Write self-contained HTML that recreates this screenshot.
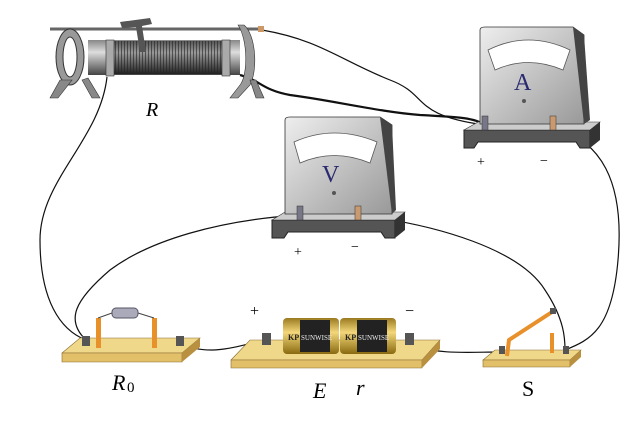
<!DOCTYPE html>
<html><head><meta charset="utf-8"><style>
html,body{margin:0;padding:0;background:#fff;width:631px;height:428px;overflow:hidden}
text{font-family:"Liberation Serif",serif}
</style></head><body>
<svg width="631" height="428" viewBox="0 0 631 428" xmlns="http://www.w3.org/2000/svg">
<defs>
<linearGradient id="cyl" x1="0" y1="0" x2="0" y2="1"><stop offset="0" stop-color="#888"/><stop offset="0.35" stop-color="#ddd"/><stop offset="1" stop-color="#444"/></linearGradient>
<linearGradient id="coil" x1="0" y1="0" x2="0" y2="1"><stop offset="0" stop-color="#555"/><stop offset="0.35" stop-color="#999"/><stop offset="1" stop-color="#222"/></linearGradient>
<linearGradient id="face" x1="0" y1="0" x2="1" y2="1"><stop offset="0" stop-color="#eee"/><stop offset="1" stop-color="#999"/></linearGradient>
<linearGradient id="gold" x1="0" y1="0" x2="0" y2="1"><stop offset="0" stop-color="#9a7a20"/><stop offset="0.4" stop-color="#f3d77a"/><stop offset="1" stop-color="#8a6a10"/></linearGradient>
<pattern id="wind" width="3" height="10" patternUnits="userSpaceOnUse"><rect width="3" height="10" fill="none"/><line x1="1.5" y1="0" x2="1.5" y2="10" stroke="#222" stroke-width="1"/></pattern>
</defs>
<!-- wires -->
<g fill="none" stroke="#111" stroke-width="1.2">
<path d="M107 77 C100 140 40 180 40 240 C40 300 60 330 86 340"/>
<path d="M262 30 C320 40 340 60 390 80 C430 95 410 115 485 125"/>
<path d="M240 75 C260 80 262 90 290 95 C330 100 380 112 420 115 C460 117 475 118 485 125" stroke-width="2.2"/>
<path d="M553 127 C600 140 625 180 618 260 C612 330 590 340 565 350"/>
<path d="M300 215 C220 220 150 240 110 270 C75 300 65 320 86 340"/>
<path d="M358 215 C440 225 520 250 545 290 C565 320 565 340 565 350"/>
<path d="M180 343 C210 358 240 345 265 340"/>
<path d="M410 345 C440 355 470 352 500 352"/>
</g>
<!-- rheostat -->
<g>
<line x1="50" y1="29" x2="262" y2="29" stroke="#666" stroke-width="3"/>
<rect x="88" y="40" width="152" height="35" fill="url(#cyl)"/>
<rect x="110" y="41" width="115" height="33" fill="url(#coil)"/>
<rect x="110" y="41" width="115" height="33" fill="url(#wind)" opacity="0.6"/>
<rect x="106" y="40" width="8" height="36" fill="#aaa" stroke="#333" stroke-width="0.6"/>
<rect x="222" y="40" width="8" height="36" fill="#aaa" stroke="#333" stroke-width="0.6"/>
<path d="M120 22 L150 18 L152 24 L142 26 L146 52 L140 52 L136 27 L122 28Z" fill="#555"/>
<ellipse cx="70" cy="57" rx="14" ry="28" fill="#999" stroke="#333"/>
<ellipse cx="70" cy="57" rx="7" ry="20" fill="#fff" stroke="#333"/>
<path d="M60 80 L50 98 L58 98 L72 80Z M82 80 L92 98 L100 98 L88 78Z" fill="#888" stroke="#333" stroke-width="0.6"/>
<path d="M238 25 C248 40 248 75 240 85 L230 98 L238 98 L250 85 C258 70 256 35 244 25Z" fill="#999" stroke="#333" stroke-width="0.6"/>
<path d="M250 80 L256 98 L264 98 L256 80Z" fill="#888" stroke="#333" stroke-width="0.6"/>
<rect x="258" y="26" width="6" height="6" fill="#c96"/>
</g>
<text x="146" y="116" font-size="20" font-style="italic">R</text>
<!-- ammeter -->
<g>
<path d="M464 130 L590 130 L590 148 L580 148 L576 142 L478 142 L474 148 L464 148Z" fill="#555" stroke="#222"/>
<path d="M464 130 L478 122 L600 122 L590 130Z" fill="#ccc" stroke="#333" stroke-width="0.6"/>
<path d="M590 130 L600 122 L600 140 L590 148Z" fill="#333"/>
<path d="M480 30 Q480 27 485 27 L573 27 L584 35 L584 124 L480 124Z" fill="url(#face)" stroke="#333" stroke-width="0.8"/>
<path d="M573 27 L584 35 L590 120 L584 124Z" fill="#444"/>
<path d="M488 50 Q528 30 570 50 L563 70 Q528 55 495 70Z" fill="#fff" stroke="#555" stroke-width="0.8"/>
<text x="514" y="90" font-size="24" fill="#2a2a70">A</text>
<circle cx="524" cy="101" r="2" fill="#555"/>
<rect x="482" y="116" width="6" height="14" fill="#778" stroke="#333" stroke-width="0.5"/>
<rect x="550" y="116" width="6" height="14" fill="#c99a70" stroke="#333" stroke-width="0.5"/>
</g>
<text x="477" y="166" font-size="14">+</text>
<text x="540" y="165" font-size="14">−</text>
<!-- voltmeter -->
<g>
<path d="M272 220 L395 220 L395 238 L385 238 L381 232 L288 232 L284 238 L272 238Z" fill="#555" stroke="#222"/>
<path d="M272 220 L285 212 L405 212 L395 220Z" fill="#ccc" stroke="#333" stroke-width="0.6"/>
<path d="M395 220 L405 212 L405 230 L395 238Z" fill="#333"/>
<path d="M285 120 Q285 117 290 117 L380 117 L392 125 L392 214 L285 214Z" fill="url(#face)" stroke="#333" stroke-width="0.8"/>
<path d="M380 117 L392 125 L396 210 L392 214Z" fill="#444"/>
<path d="M294 142 Q334 124 377 142 L370 163 Q334 148 300 163Z" fill="#fff" stroke="#555" stroke-width="0.8"/>
<text x="322" y="182" font-size="24" fill="#2a2a70">V</text>
<circle cx="334" cy="193" r="2" fill="#555"/>
<rect x="297" y="206" width="6" height="14" fill="#778" stroke="#333" stroke-width="0.5"/>
<rect x="355" y="206" width="6" height="14" fill="#c99a70" stroke="#333" stroke-width="0.5"/>
</g>
<text x="294" y="256" font-size="14">+</text>
<text x="351" y="251" font-size="14">−</text>
<!-- R0 board -->
<g>
<path d="M62 353 L80 338 L200 338 L182 353Z" fill="#f0d88a" stroke="#8a6a30" stroke-width="0.6"/>
<path d="M62 353 L182 353 L182 362 L62 362Z" fill="#e2c06a" stroke="#8a6a30" stroke-width="0.6"/>
<path d="M182 353 L200 338 L200 347 L182 362Z" fill="#b89040"/>
<rect x="96" y="318" width="5" height="30" fill="#e8902a"/>
<rect x="152" y="318" width="5" height="30" fill="#e8902a"/>
<path d="M98 318 L112 313 M138 313 L154 318" stroke="#444"/>
<rect x="112" y="308" width="26" height="10" rx="4" fill="#aab" stroke="#556"/>
<rect x="82" y="336" width="8" height="10" fill="#555"/>
<rect x="176" y="336" width="8" height="10" fill="#555"/>
</g>
<text x="112" y="390" font-size="22" font-style="italic">R</text><text x="127" y="392" font-size="15">0</text>
<!-- battery -->
<g>
<path d="M231 360 L250 340 L440 340 L422 360Z" fill="#f0d88a" stroke="#8a6a30" stroke-width="0.6"/>
<path d="M231 360 L422 360 L422 368 L231 368Z" fill="#e2c06a" stroke="#8a6a30" stroke-width="0.6"/>
<path d="M422 360 L440 340 L440 349 L422 368Z" fill="#b89040"/>
<rect x="283" y="318" width="56" height="36" rx="4" fill="url(#gold)"/>
<rect x="340" y="318" width="56" height="36" rx="4" fill="url(#gold)"/>
<rect x="300" y="320" width="30" height="32" fill="#222"/>
<rect x="357" y="320" width="30" height="32" fill="#222"/>
<text x="301" y="340" font-size="7" fill="#eee">SUNWISE</text>
<text x="358" y="340" font-size="7" fill="#eee">SUNWISE</text>
<text x="288" y="340" font-size="8" font-weight="bold" fill="#222">KP</text>
<text x="345" y="340" font-size="8" font-weight="bold" fill="#222">KP</text>
<rect x="262" y="333" width="9" height="12" fill="#555"/>
<rect x="405" y="333" width="9" height="12" fill="#555"/>
</g>
<text x="250" y="316" font-size="16">+</text>
<text x="405" y="316" font-size="16">−</text>
<text x="313" y="398" font-size="22" font-style="italic">E</text>
<text x="356" y="395" font-size="22" font-style="italic">r</text>
<!-- switch -->
<g>
<path d="M483 360 L495 350 L581 350 L570 360Z" fill="#f0d88a" stroke="#8a6a30" stroke-width="0.6"/>
<path d="M483 360 L570 360 L570 367 L483 367Z" fill="#e2c06a" stroke="#8a6a30" stroke-width="0.6"/>
<path d="M570 360 L581 350 L581 357 L570 367Z" fill="#b89040"/>
<path d="M507 356 L509 340 L552 312" stroke="#e8902a" stroke-width="4" fill="none"/>
<rect x="550" y="308" width="6" height="6" fill="#555"/>
<rect x="550" y="333" width="4" height="20" fill="#e8902a"/>
<rect x="499" y="346" width="6" height="8" fill="#555"/>
<rect x="563" y="346" width="6" height="8" fill="#555"/>
</g>
<text x="522" y="396" font-size="22">S</text>
</svg>
</body></html>
